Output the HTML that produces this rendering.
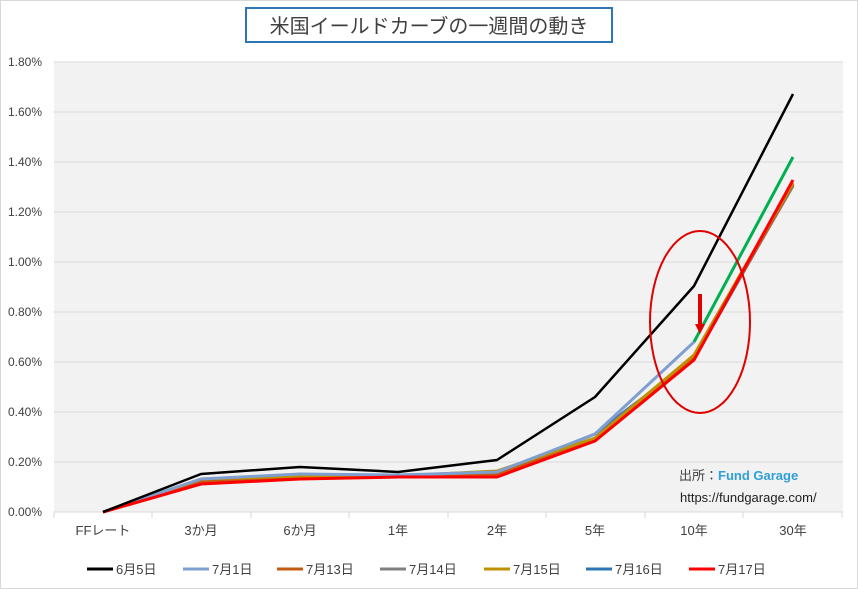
<!DOCTYPE html>
<html><head><meta charset="utf-8"><style>
body{margin:0;background:#fff}
svg{display:block;font-family:"Liberation Sans","Noto Sans CJK JP",sans-serif}
</style></head><body>
<svg width="858" height="589" viewBox="0 0 858 589">
<rect x="0.5" y="0.5" width="857" height="588" fill="#fff" stroke="#d9d9d9"/>
<rect x="54" y="62" width="789" height="450" fill="#f2f2f2"/>
<g stroke="#d9d9d9" stroke-width="1">
<line x1="54" x2="843" y1="62" y2="62"/><line x1="54" x2="843" y1="112" y2="112"/>
<line x1="54" x2="843" y1="162" y2="162"/><line x1="54" x2="843" y1="212" y2="212"/>
<line x1="54" x2="843" y1="262" y2="262"/><line x1="54" x2="843" y1="312" y2="312"/>
<line x1="54" x2="843" y1="362" y2="362"/><line x1="54" x2="843" y1="412" y2="412"/>
<line x1="54" x2="843" y1="462" y2="462"/><line x1="54" x2="843" y1="512" y2="512"/>
</g>
<g stroke="#d9d9d9"><line x1="54" x2="54" y1="512" y2="518"/><line x1="152" x2="152" y1="512" y2="518"/><line x1="251" x2="251" y1="512" y2="518"/><line x1="349" x2="349" y1="512" y2="518"/><line x1="448" x2="448" y1="512" y2="518"/><line x1="546" x2="546" y1="512" y2="518"/><line x1="645" x2="645" y1="512" y2="518"/><line x1="743" x2="743" y1="512" y2="518"/><line x1="842" x2="842" y1="512" y2="518"/></g>
<g font-size="12" fill="#404040" text-anchor="end">
<text x="42" y="66">1.80%</text><text x="42" y="116">1.60%</text><text x="42" y="166">1.40%</text>
<text x="42" y="216">1.20%</text><text x="42" y="266">1.00%</text><text x="42" y="316">0.80%</text>
<text x="42" y="366">0.60%</text><text x="42" y="416">0.40%</text><text x="42" y="466">0.20%</text>
<text x="42" y="516">0.00%</text></g>
<g font-size="13" fill="#404040" text-anchor="middle">
<text x="103" y="535">FFレート</text><text x="201" y="535">3か月</text><text x="300" y="535">6か月</text>
<text x="398" y="535">1年</text><text x="497" y="535">2年</text><text x="595" y="535">5年</text>
<text x="694" y="535">10年</text><text x="793" y="535">30年</text></g>
<g fill="none" stroke-width="3" stroke-linejoin="round">
<polyline stroke="#4472c4" points="103,512 201,480 300,475 398,476 497,473 595,434 694,359 793,185"/>
<polyline stroke="#808080" points="103,512 201,481 300,477 398,476 497,474 595,439 694,357 793,186"/>
<polyline stroke="#c55a11" points="103,512 201,482 300,478 398,477 497,474 595,440 694,358 793,184"/>
<polyline stroke="#bf9000" points="103,512 201,479 300,476 398,476 497,471 595,438 694,355 793,183"/>
<polyline stroke="#7f9fd0" points="103,512 201,479 300,474 398,475 497,472 595,434 694,342"/>
<polyline stroke="#00b050" points="694,342 793,157"/>
<polyline stroke="#ff0000" points="103,512 201,484 300,479 398,477 497,477 595,441 694,360 793,180"/>
<polyline stroke="#000" stroke-width="2.5" points="103,512 201,474 300,467 398,472 497,460 595,397 694,286 793,94"/>
</g>
<ellipse cx="700" cy="322" rx="50" ry="91" fill="none" stroke="#e00000" stroke-width="2"/>
<line x1="700" y1="294" x2="700" y2="326" stroke="#e00000" stroke-width="4"/>
<polygon points="695,324 705,324 700,334" fill="#e00000"/>
<text x="679" y="480" font-size="13" fill="#404040">出所：<tspan fill="#2e9fd8" font-weight="bold">Fund Garage</tspan></text>
<text x="680" y="502" font-size="13" fill="#202020">https://fundgarage.com/</text>
<rect x="246" y="8" width="366" height="34" fill="#fff" stroke="#2e75b6" stroke-width="2"/>
<text x="429" y="33" font-size="20" fill="#404040" text-anchor="middle">米国イールドカーブの一週間の動き</text>
<g font-size="13" fill="#404040" stroke-width="3">
<line x1="87" x2="113" y1="569" y2="569" stroke="#000"/><text x="116" y="574">6月5日</text>
<line x1="183" x2="209" y1="569" y2="569" stroke="#7f9fd0"/><text x="212" y="574">7月1日</text>
<line x1="277" x2="303" y1="569" y2="569" stroke="#c55a11"/><text x="306" y="574">7月13日</text>
<line x1="380" x2="406" y1="569" y2="569" stroke="#808080"/><text x="409" y="574">7月14日</text>
<line x1="484" x2="510" y1="569" y2="569" stroke="#bf9000"/><text x="513" y="574">7月15日</text>
<line x1="586" x2="612" y1="569" y2="569" stroke="#2e75b6"/><text x="615" y="574">7月16日</text>
<line x1="689" x2="715" y1="569" y2="569" stroke="#ff0000"/><text x="718" y="574">7月17日</text>
</g>
</svg>
</body></html>
